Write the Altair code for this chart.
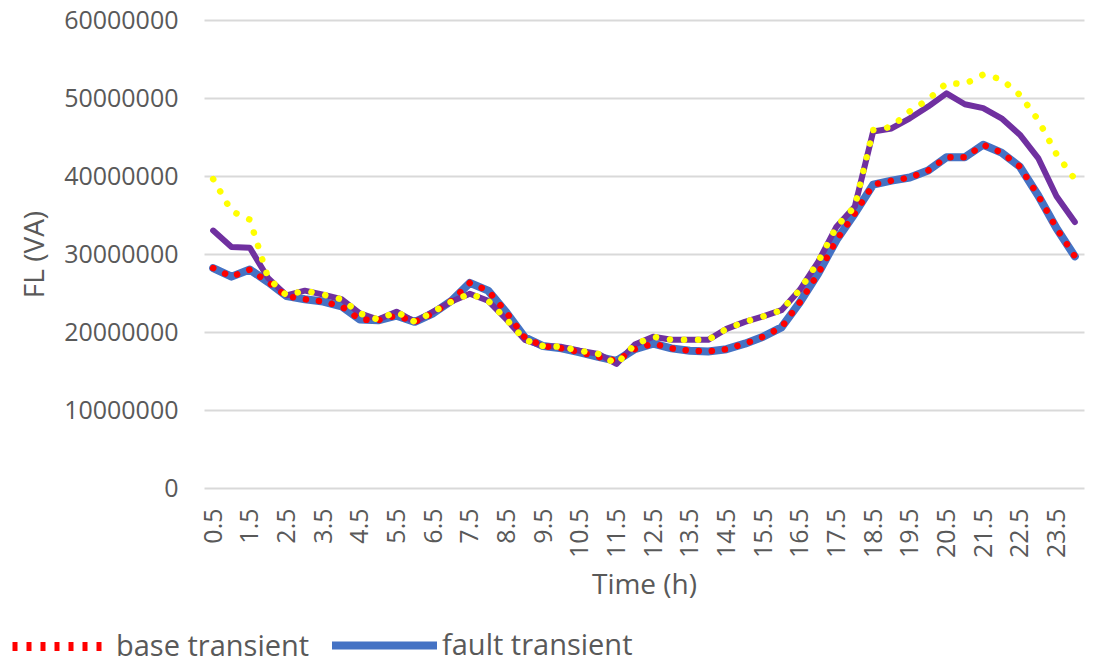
import altair as alt
import pandas as pd

hours = ["0.5", "1", "1.5", "2", "2.5", "3", "3.5", "4", "4.5", "5", "5.5", "6",
         "6.5", "7", "7.5", "8", "8.5", "9", "9.5", "10", "10.5", "11", "11.5", "12",
         "12.5", "13", "13.5", "14", "14.5", "15", "15.5", "16", "16.5", "17", "17.5", "18",
         "18.5", "19", "19.5", "20", "20.5", "21", "21.5", "22", "22.5", "23", "23.5", "24"]

tick_labels = ["0.5", "1.5", "2.5", "3.5", "4.5", "5.5", "6.5", "7.5", "8.5", "9.5", "10.5", "11.5",
               "12.5", "13.5", "14.5", "15.5", "16.5", "17.5", "18.5", "19.5", "20.5", "21.5", "22.5", "23.5"]

# values in millions of VA
fault_transient = [28.2, 27.1, 28.0, 26.4, 24.6, 24.2, 23.9, 23.3, 21.6, 21.5, 22.1, 21.3,
                   22.4, 24.0, 26.3, 25.3, 22.5, 19.3, 18.2, 17.9, 17.4, 16.8, 16.3, 17.8,
                   18.5, 17.9, 17.6, 17.5, 17.8, 18.5, 19.4, 20.6, 23.8, 27.5, 31.8, 35.2,
                   38.9, 39.4, 39.8, 40.7, 42.4, 42.4, 44.0, 43.0, 41.2, 37.5, 33.3, 29.7]

base_transient = [28.2, 27.1, 28.0, 26.4, 24.6, 24.2, 23.9, 23.3, 21.6, 21.5, 22.1, 21.3,
                  22.4, 24.0, 26.3, 25.3, 22.5, 19.3, 18.2, 17.9, 17.4, 16.8, 16.3, 17.8,
                  18.5, 17.9, 17.6, 17.5, 17.8, 18.5, 19.4, 20.6, 23.8, 27.5, 31.8, 35.2,
                  38.9, 39.4, 39.8, 40.7, 42.4, 42.4, 44.0, 43.0, 41.2, 37.5, 33.3, 29.7]

purple_series = [33.0, 30.9, 30.8, 26.9, 24.7, 25.3, 24.8, 24.2, 22.4, 21.6, 22.6, 21.3,
                 22.6, 23.9, 24.9, 24.0, 21.6, 19.0, 18.2, 18.1, 17.6, 17.2, 15.9, 18.4,
                 19.4, 19.0, 19.0, 19.0, 20.4, 21.3, 22.0, 22.8, 25.4, 29.0, 33.5, 36.1,
                 45.7, 46.1, 47.4, 48.9, 50.6, 49.2, 48.7, 47.4, 45.3, 42.3, 37.4, 34.1]

yellow_series = [39.6, 35.5, 34.4, 26.9, 24.7, 25.3, 24.8, 24.2, 22.4, 21.6, 22.6, 21.3,
                 22.6, 23.9, 24.9, 24.0, 21.6, 19.0, 18.2, 18.1, 17.6, 17.2, 15.9, 18.4,
                 19.4, 19.0, 19.0, 19.0, 20.4, 21.3, 22.0, 22.8, 25.4, 29.0, 33.5, 36.1,
                 45.9, 46.3, 48.3, 49.8, 51.9, 51.8, 53.0, 52.4, 50.4, 47.2, 42.8, 39.6]

y_ticks = [0, 10000000, 20000000, 30000000, 40000000, 50000000, 60000000]


def frame(values, name):
    return pd.DataFrame({"time": hours, "fl": [v * 1e6 for v in values], "series": name})


FONT = "Open Sans"
GREY = "#595959"

x_enc = alt.X("time:N", sort=hours,
              scale=alt.Scale(type="point", padding=0.5),
              axis=alt.Axis(values=tick_labels, labelAngle=-90, title="Time (h)",
                            domain=False, ticks=False, grid=False, labelPadding=20,
                            titlePadding=14))
y_enc = alt.Y("fl:Q", scale=alt.Scale(domain=[0, 60000000], nice=False),
              axis=alt.Axis(values=y_ticks, format="d", title="FL (VA)", domain=False,
                            ticks=False, labelPadding=26, titlePadding=14,
                            gridColor="#d9d9d9", gridWidth=2))

blue = alt.Chart(frame(fault_transient, "fault transient")).mark_line(
    strokeWidth=8, strokeJoin="round", strokeCap="round"
).encode(
    x=x_enc, y=y_enc,
    stroke=alt.Stroke("series:N", scale=alt.Scale(domain=["fault transient"], range=["#4472C4"]),
                      legend=alt.Legend(orient="none", legendX=124, legendY=569, title=None,
                                        symbolType="stroke", symbolSize=11025,
                                        symbolStrokeWidth=8, labelFontSize=29,
                                        labelLimit=400, labelOffset=1, padding=0))
)

purple = alt.Chart(frame(purple_series, "purple")).mark_line(
    strokeWidth=6, strokeJoin="round", strokeCap="round", color="#7030A0"
).encode(x=x_enc, y=y_enc)

red = alt.Chart(frame(base_transient, "base transient")).mark_line(
    strokeWidth=6.5, strokeCap="round", strokeDash=[0.1, 13]
).encode(
    x=x_enc, y=y_enc,
    color=alt.Color("series:N", scale=alt.Scale(domain=["base transient"], range=["#FF0000"]),
                    legend=alt.Legend(orient="none", legendX=-196, legendY=577, title=None,
                                      symbolType="stroke", symbolSize=8100,
                                      symbolStrokeWidth=9, symbolDash=[5, 9],
                                      labelFontSize=29, labelLimit=400,
                                      labelOffset=9, padding=0))
)

yellow = alt.Chart(frame(yellow_series, "yellow")).mark_line(
    strokeWidth=6.5, strokeCap="round", strokeDash=[0.1, 14], color="#FFFF00"
).encode(x=x_enc, y=y_enc)

chart = alt.layer(blue, purple, red, yellow).resolve_scale(
    color="independent", stroke="independent"
).properties(
    width=880, height=468,
    autosize=alt.AutoSizeParams(type="none"),
    padding={"left": 196, "top": 12, "right": 2, "bottom": 170},
    background="white",
).configure_view(stroke=None).configure_axis(
    labelFont=FONT, titleFont=FONT, labelFontSize=25, titleFontSize=28,
    labelColor=GREY, titleColor=GREY, titleFontWeight="normal",
).configure_legend(
    labelFont=FONT, labelColor=GREY
)

chart.save("out.html", embed_options={"renderer": "svg", "actions": False})
